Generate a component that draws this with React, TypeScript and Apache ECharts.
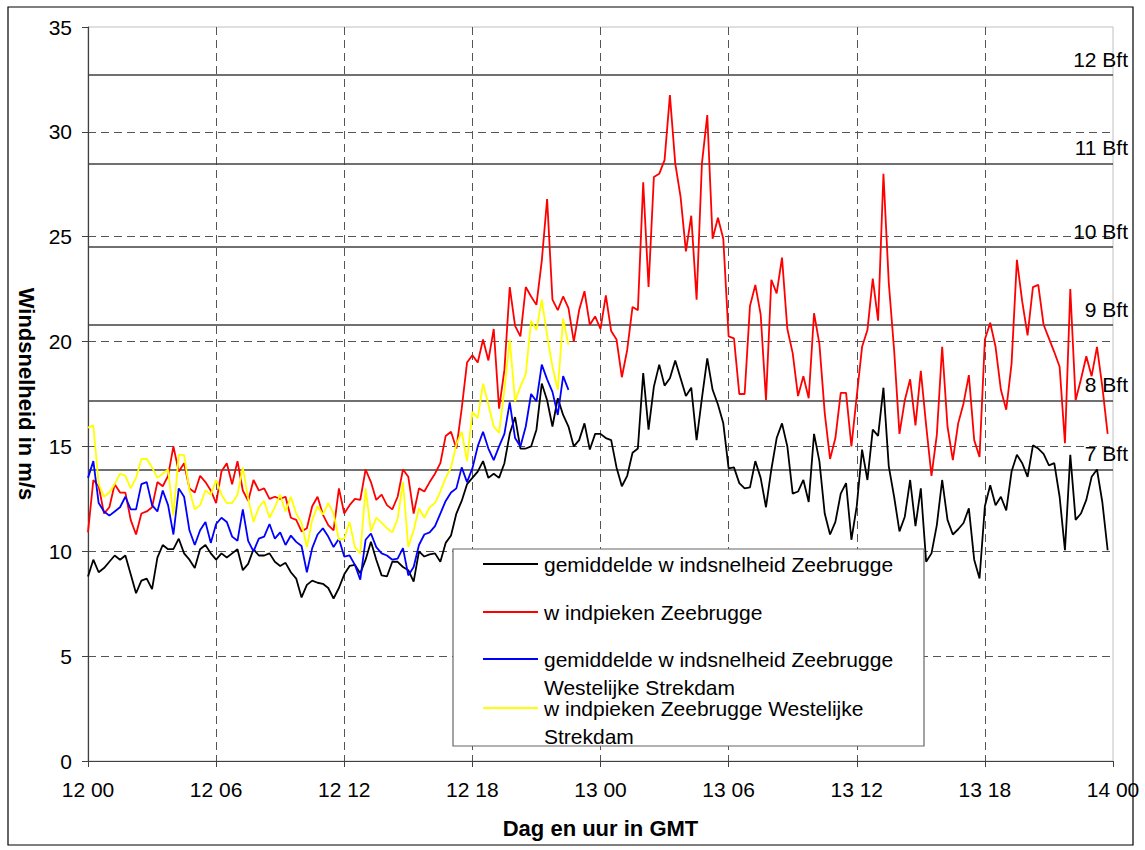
import React, { useEffect, useRef } from "react";
import * as echarts from "echarts";

// time step between samples, in hours (12 00 = 0 h, 14 00 = 48 h)
const STEP_HOURS = 0.25;

const X_TICK_LABELS = ["12 00", "12 06", "12 12", "12 18", "13 00", "13 06", "13 12", "13 18", "14 00"];

const BEAUFORT_LEVELS = [13.9, 17.2, 20.8, 24.5, 28.5, 32.7];
const BEAUFORT_LABELS = ["7 Bft", "8 Bft", "9 Bft", "10 Bft", "11 Bft", "12 Bft"];

const SERIES_NAMES = [
  "gemiddelde w indsnelheid Zeebrugge",
  "w indpieken Zeebrugge",
  "gemiddelde w indsnelheid Zeebrugge\nWestelijke Strekdam",
  "w indpieken Zeebrugge Westelijke\nStrekdam",
];
const SERIES_COLORS = ["#000000", "#ff0000", "#0000ff", "#ffff00"];

// gemiddelde windsnelheid Zeebrugge (m/s)
const MEAN_ZEEBRUGGE = [
  8.8, 9.6, 9.0, 9.2, 9.5, 9.8, 9.6, 9.8, 8.9, 8.0, 8.6, 8.7, 8.2, 9.7, 10.3, 10.1,
  10.1, 10.6, 9.9, 9.6, 9.2, 10.1, 10.3, 9.9, 9.6, 9.9, 9.7, 9.9, 10.1, 9.1, 9.4, 10.1,
  9.8, 9.8, 9.9, 9.5, 9.3, 9.45, 9.0, 8.7, 7.8, 8.4, 8.6, 8.5, 8.45, 8.25, 7.75, 8.25,
  8.9, 9.3, 9.35, 8.95, 9.6, 10.45, 9.6, 8.85, 8.8, 9.5, 9.5, 9.25, 9.1, 8.55, 10.0, 9.75,
  9.85, 9.9, 9.5, 10.4, 10.75, 11.8, 12.4, 13.2, 13.5, 13.8, 14.3, 13.5, 13.7, 13.5, 14.2, 15.6,
  16.4, 14.9, 14.9, 15.0, 15.8, 18.0, 17.2, 15.95, 17.3, 16.5, 15.95, 15.0, 15.3, 16.1, 14.85, 15.6,
  15.6, 15.4, 15.3, 14.0, 13.1, 13.6, 14.7, 14.9, 18.5, 15.8, 17.85, 18.9, 17.9, 18.25, 19.1, 18.25,
  17.4, 17.8, 15.3, 17.3, 19.2, 17.7, 17.0, 16.1, 13.95, 14.0, 13.25, 13.0, 13.05, 14.3, 13.5, 12.1,
  13.9, 15.4, 16.1, 15.0, 12.75, 12.85, 13.4, 12.35, 15.6, 14.3, 11.8, 10.8, 11.4, 12.75, 13.25, 10.55,
  12.15, 14.85, 13.4, 15.8, 15.5, 17.8, 14.05, 12.6, 10.95, 11.65, 13.4, 11.2, 13.0, 9.5, 9.9, 11.25,
  13.4, 11.5, 10.8, 11.05, 11.35, 12.05, 9.6, 8.7, 12.15, 13.15, 12.2, 12.6, 11.95, 13.8, 14.6, 14.2,
  13.55, 15.05, 14.9, 14.65, 14.1, 14.2, 12.6, 10.05, 14.6, 11.5, 11.8, 12.45, 13.55, 13.9, 12.35, 10.05,
];

// windpieken Zeebrugge (m/s)
const GUST_ZEEBRUGGE = [
  10.9, 13.4, 13.1, 11.8, 12.1, 13.2, 12.8, 12.8, 11.5, 10.8, 11.8, 11.9, 12.1, 13.3, 13.1, 13.6,
  15.0, 13.8, 14.2, 13.0, 12.8, 13.6, 13.3, 12.9, 12.3, 13.8, 14.2, 13.2, 14.3, 12.9, 12.4, 13.4,
  12.9, 13.0, 12.5, 12.6, 12.5, 12.6, 11.6, 11.5, 10.95, 11.1, 12.15, 12.6, 11.75, 11.25, 11.0, 13.0,
  11.8, 12.2, 12.5, 12.45, 13.9, 13.3, 12.45, 12.7, 12.2, 12.0, 12.6, 13.9, 13.55, 11.8, 13.0, 12.85,
  13.3, 13.7, 14.2, 15.5, 15.7, 14.9, 16.8, 19.0, 19.35, 19.0, 20.1, 19.1, 20.6, 16.8, 18.65, 22.6,
  20.75, 20.25, 22.6, 22.15, 21.75, 23.85, 26.8, 22.0, 21.5, 22.15, 21.6, 20.0, 21.5, 22.4, 20.8, 21.2,
  20.6, 22.2, 20.5, 20.1, 18.3, 19.6, 21.65, 21.5, 27.6, 22.6, 27.85, 28.0, 28.65, 31.75, 28.5, 26.9,
  24.3, 26.0, 22.0, 28.5, 30.8, 24.9, 25.9, 24.9, 20.25, 20.15, 17.5, 17.5, 21.7, 22.7, 21.3, 17.2,
  22.95, 22.3, 24.0, 20.6, 19.45, 17.4, 18.35, 17.3, 21.35, 19.9, 16.6, 14.4, 15.4, 17.55, 17.55, 15.0,
  17.4, 19.75, 20.55, 23.0, 21.0, 28.0, 22.8, 19.6, 15.6, 17.2, 18.2, 16.0, 18.6, 16.0, 13.6, 15.55,
  19.75, 15.95, 14.35, 16.1, 17.05, 18.4, 15.3, 14.5, 20.1, 20.9, 19.75, 17.7, 16.75, 18.95, 23.9, 21.9,
  20.3, 22.6, 22.7, 20.8, 20.15, 19.5, 18.8, 15.15, 22.5, 17.2, 18.2, 19.3, 18.35, 19.75, 17.85, 15.6,
];

// gemiddelde windsnelheid Zeebrugge Westelijke Strekdam (m/s)
const MEAN_STREKDAM = [
  13.5, 14.3, 12.3, 11.9, 11.7, 11.9, 12.1, 12.6, 12.0, 12.0, 13.2, 13.3, 12.2, 11.9, 12.9, 12.2,
  10.8, 13.0, 12.6, 11.0, 10.3, 11.0, 11.4, 10.4, 11.3, 11.6, 11.4, 10.7, 10.5, 12.0, 10.5, 10.0,
  10.6, 10.7, 11.3, 10.6, 10.9, 10.3, 10.75, 10.45, 10.25, 9.0, 10.15, 10.8, 11.1, 10.7, 10.2, 10.6,
  9.75, 9.8, 9.35, 8.65, 10.55, 10.85, 10.2, 9.9, 9.8, 9.6, 9.65, 10.15, 8.85, 9.25, 10.3, 10.8,
  10.9, 11.2, 11.8, 12.4, 12.8, 13.0, 14.0, 13.3, 13.95, 15.0, 15.7, 14.9, 14.35, 15.0, 15.6, 17.1,
  15.4, 15.0, 15.95, 17.5, 17.15, 18.9, 18.2, 17.6, 16.5, 18.35, 17.7,
];

// windpieken Zeebrugge Westelijke Strekdam (m/s)
const GUST_STREKDAM = [
  15.9, 16.0, 13.2, 12.6, 12.8, 13.2, 13.7, 13.6, 13.0, 13.5, 14.4, 14.4, 14.0, 13.5, 13.7, 13.9,
  11.7, 14.6, 14.6, 12.9, 12.0, 12.2, 12.9, 12.7, 13.4, 12.7, 12.3, 12.3, 12.7, 14.0, 12.5, 11.4,
  12.1, 12.4, 11.6, 12.1, 12.7, 11.9, 12.6, 11.8, 11.35, 10.2, 11.5, 12.15, 11.75, 12.3, 11.8, 10.55,
  10.6, 11.4, 10.2, 9.9, 13.0, 10.95, 11.6, 11.35, 11.1, 10.9, 11.55, 13.3, 10.2, 11.0, 12.05, 11.6,
  12.1, 12.3, 12.85, 13.5, 14.0, 15.1, 15.7, 14.3, 16.65, 16.35, 18.0, 17.0, 15.95, 15.65, 17.7, 20.1,
  17.15, 17.85, 18.45, 21.0, 20.55, 22.0, 20.3, 18.8, 17.7, 21.1, 19.85,
];

const FONT = "'Liberation Sans', Arial, Helvetica, sans-serif";

export default function App() {
  const ref = useRef<HTMLDivElement>(null);

  useEffect(() => {
    if (!ref.current) return;
    const chart = echarts.init(ref.current, null, { renderer: "svg" });

    const toPairs = (arr: number[]) => arr.map((v, i) => [i * STEP_HOURS, v]);
    const allData = [MEAN_ZEEBRUGGE, GUST_ZEEBRUGGE, MEAN_STREKDAM, GUST_STREKDAM];

    const series: any[] = allData.map((arr, idx) => ({
      name: SERIES_NAMES[idx],
      type: "line",
      data: toPairs(arr),
      showSymbol: false,
      symbol: "none",
      z: 3,
      lineStyle: { color: SERIES_COLORS[idx], width: 1.8 },
      itemStyle: { color: SERIES_COLORS[idx] },
      emphasis: { disabled: true },
      silent: true,
    }));

    series.push({
      name: "Beaufort",
      type: "line",
      data: [],
      silent: true,
      markLine: {
        silent: true,
        symbol: "none",
        z: 1,
        animation: false,
        lineStyle: { color: "#404040", width: 1.5, type: "solid" },
        label: {
          show: true,
          position: "insideEndTop",
          formatter: (p: any) => p.name,
          fontSize: 21,
          fontFamily: FONT,
          color: "#000",
          distance: 5,
          offset: [20, 0],
        },
        emphasis: { disabled: true },
        data: BEAUFORT_LEVELS.map((v, i) => ({ yAxis: v, name: BEAUFORT_LABELS[i] })),
      },
    });

    const legendRows = [564, 612, 659, 708];
    const legendGraphics: any[] = [
      {
        type: "rect",
        shape: { x: 453, y: 549, width: 471, height: 197 },
        style: { fill: "#ffffff", stroke: "#666666", lineWidth: 1.2 },
        z: 100,
        silent: true,
      },
    ];
    SERIES_NAMES.forEach((name, i) => {
      legendGraphics.push({
        type: "line",
        shape: { x1: 483, y1: legendRows[i], x2: 538, y2: legendRows[i] },
        style: { stroke: SERIES_COLORS[i], lineWidth: 2 },
        z: 101,
        silent: true,
      });
      legendGraphics.push({
        type: "text",
        x: 544,
        y: legendRows[i] - 14,
        style: {
          text: name,
          fontSize: 21,
          fontFamily: FONT,
          fill: "#000",
          lineHeight: 28,
          verticalAlign: "top",
          align: "left",
        },
        z: 101,
        silent: true,
      });
    });

    const option: any = {
      animation: false,
      backgroundColor: "#ffffff",
      textStyle: { fontFamily: FONT },
      grid: {
        left: 88,
        top: 27,
        right: 32,
        bottom: 89,
        show: true,
        borderColor: "#c0c0c0",
        borderWidth: 1,
        containLabel: false,
      },
      xAxis: {
        type: "value",
        min: 0,
        max: 48,
        interval: 6,
        name: "Dag en uur in GMT",
        nameLocation: "middle",
        nameGap: 56,
        nameTextStyle: { fontSize: 22, fontWeight: "bold", color: "#000", fontFamily: FONT },
        axisLine: { show: true, onZero: false, lineStyle: { color: "#404040", width: 1.2 } },
        axisTick: { show: true, length: 6, lineStyle: { color: "#404040" } },
        axisLabel: {
          fontSize: 21,
          color: "#000",
          fontFamily: FONT,
          margin: 18,
          formatter: (v: number) => X_TICK_LABELS[Math.round(v / 6)],
        },
        splitLine: {
          show: true,
          showMinLine: false,
          showMaxLine: false,
          lineStyle: { color: "#555555", width: 1, type: [8, 5] },
        },
      },
      yAxis: {
        type: "value",
        min: 0,
        max: 35,
        interval: 5,
        name: "Windsnelheid in m/s",
        nameLocation: "middle",
        nameRotate: -90,
        nameGap: 42,
        nameTextStyle: { fontSize: 22, fontWeight: "bold", color: "#000", fontFamily: FONT },
        axisLine: { show: true, lineStyle: { color: "#404040", width: 1.2 } },
        axisTick: { show: true, length: 6, lineStyle: { color: "#404040" } },
        axisLabel: { fontSize: 21, color: "#000", fontFamily: FONT, margin: 16 },
        splitLine: {
          show: true,
          showMinLine: false,
          showMaxLine: false,
          lineStyle: { color: "#555555", width: 1, type: [8, 5] },
        },
      },
      graphic: [
        {
          type: "rect",
          shape: { x: 8, y: 7, width: 1125, height: 838 },
          style: { fill: "none", stroke: "#000", lineWidth: 1.2 },
          z: 0,
          silent: true,
        },
        ...legendGraphics,
      ],
      series,
    };

    chart.setOption(option);
    return () => chart.dispose();
  }, []);

  return (
    <div
      ref={ref}
      style={{ position: "fixed", left: 0, top: 0, width: 1145, height: 850, background: "#fff" }}
    />
  );
}
